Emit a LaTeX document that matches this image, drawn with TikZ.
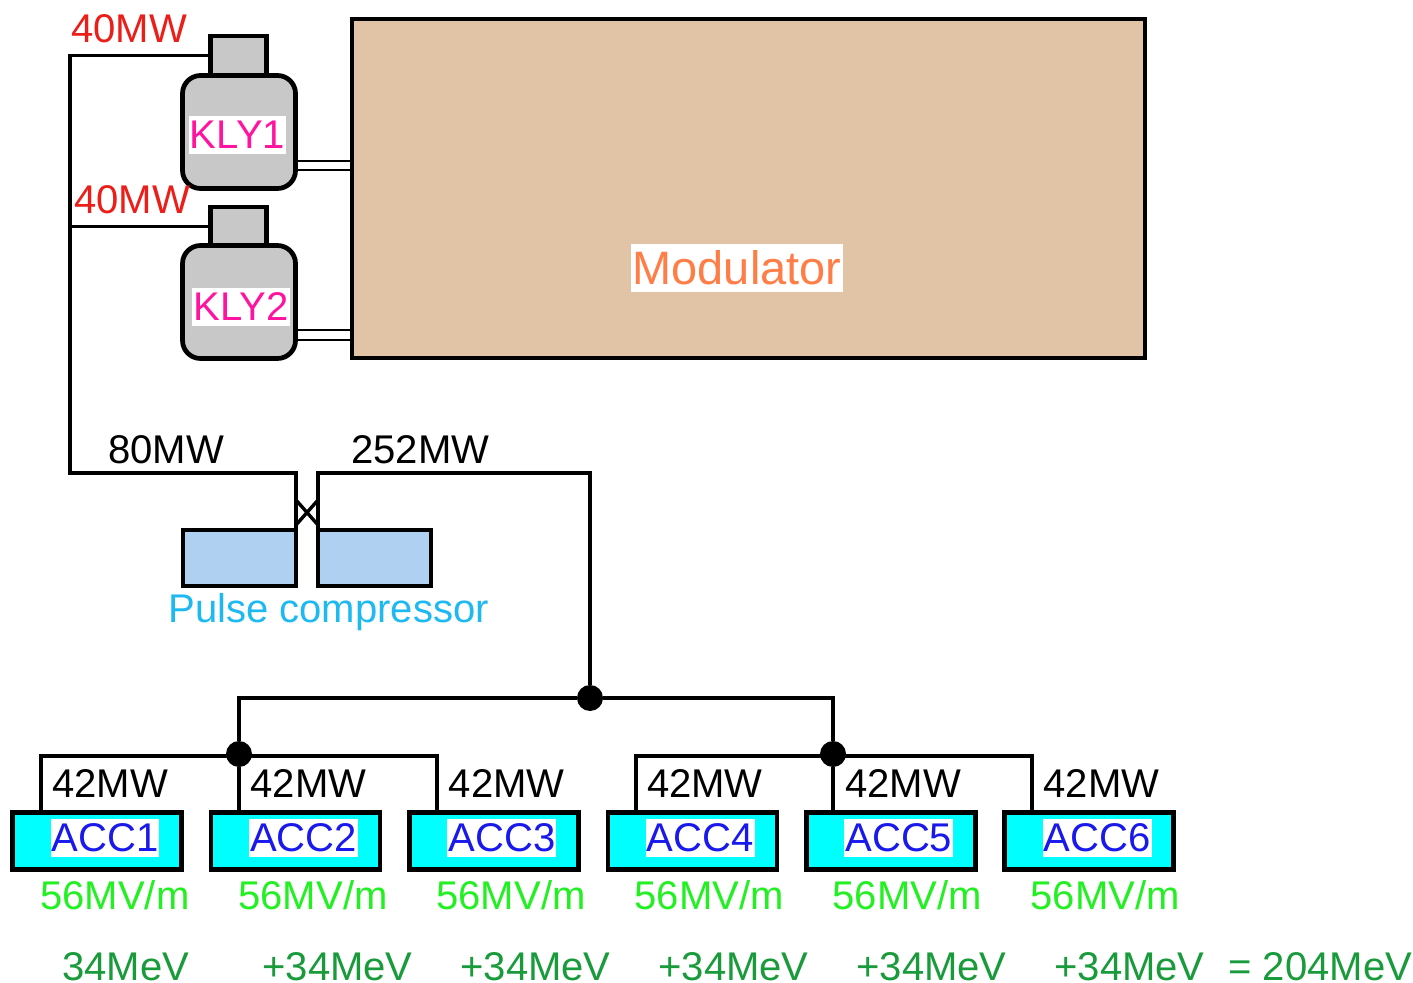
\documentclass[tikz,border=0pt]{standalone}
\usepackage{fontspec}
\setmainfont{Liberation Sans}
\usetikzlibrary{positioning}
\definecolor{modtan}{RGB}{225,195,165}
\definecolor{klygray}{RGB}{200,200,200}
\definecolor{pcblue}{RGB}{176,208,242}
\definecolor{acccyan}{RGB}{0,255,255}
\definecolor{lblred}{RGB}{235,30,25}
\definecolor{lblpink}{RGB}{255,20,160}
\definecolor{lblorange}{RGB}{255,125,70}
\definecolor{lblsky}{RGB}{30,185,240}
\definecolor{lblblue}{RGB}{25,25,235}
\definecolor{lblgreen}{RGB}{35,240,35}
\definecolor{lbldark}{RGB}{25,155,60}
\tikzset{
  boxline/.style={draw=black, line width=0.095cm, inner sep=0pt, outer sep=0pt},
  klybody/.style={boxline, fill=klygray, rounded corners=0.36cm, minimum width=2.26cm, minimum height=2.26cm},
  klytop/.style={boxline, fill=klygray, minimum width=1.12cm, minimum height=0.78cm},
  pcbox/.style={boxline, fill=pcblue, minimum width=2.26cm, minimum height=1.12cm},
  accbox/.style={boxline, fill=acccyan, minimum width=3.38cm, minimum height=1.14cm},
  wire/.style={draw=black, line width=0.068cm},
  thinwire/.style={draw=black, line width=0.055cm},
  junction/.style={circle, fill=black, inner sep=0pt, minimum size=0.52cm},
  lbl/.style={inner sep=0pt, font=\fontsize{22.8}{24}\selectfont},
  lblbase/.style={lbl, anchor=base west},
  whitelbl/.style={lbl, fill=white, inner xsep=0.02cm, inner ysep=0.1cm},
  acclbl/.style={whitelbl, text=lblblue, xshift=0.16cm, yshift=0.06cm}
}
\begin{document}
\begin{tikzpicture}[x=0.02cm, y=-0.02cm]
  \useasboundingbox (0,0) rectangle (1413,983);
  % modulator and klystrons
  \node[boxline, fill=modtan, minimum width=15.86cm, minimum height=6.78cm] (modulator) at (748.5,188.5) {};
  \node[klytop] (top1) at (238.5,55.5) {};
  \node[klybody] (kly1) at (239,132) {};
  \node[klytop] (top2) at (238.5,226.5) {};
  \node[klybody] (kly2) at (239,302) {};
  \coordinate (kly1a) at (296,161);
  \coordinate (kly1b) at (296,170);
  \coordinate (kly2a) at (296,330);
  \coordinate (kly2b) at (296,340);
  \draw[thinwire] (kly1a) -- (kly1a -| modulator.west);
  \draw[thinwire] (kly1b) -- (kly1b -| modulator.west);
  \draw[thinwire] (kly2a) -- (kly2a -| modulator.west);
  \draw[thinwire] (kly2b) -- (kly2b -| modulator.west);
  \node[whitelbl, text=lblpink] (kly1txt) at (237.5,135) {KLY1};
  \node[whitelbl, text=lblpink] (kly2txt) at (241,307) {KLY2};
  \node[lbl, fill=white, inner xsep=0.04cm, inner ysep=0.13cm, font=\fontsize{26.7}{28}\selectfont, text=lblorange] (modtxt) at (737,268) {Modulator};
  % pulse compressor
  \node[pcbox] (pc1) at (239.5,558) {};
  \node[pcbox] (pc2) at (374.5,558) {};
  \coordinate (feed) at (70,473);
  \node[junction] (split) at (590,698) {};
  \draw[wire] (top1.west) -| (feed) -- (feed -| pc1.east) -- (pc1.north east);
  \draw[wire] (top2.west) -- (top2.west -| feed);
  \draw[wire] (split) |- (pc2.west |- feed) -- (pc2.north west);
  \coordinate (xa) at (296,500);
  \coordinate (xb) at (318,525);
  \coordinate (xc) at (318,500);
  \coordinate (xd) at (296,525);
  \draw[wire] (xa) -- (xb);
  \draw[wire] (xc) -- (xd);
  % accelerating structures
  \node[accbox] (acc1) at (97,841) {};
  \node[accbox, right=0.59cm of acc1] (acc2) {};
  \node[accbox, right=0.59cm of acc2] (acc3) {};
  \node[accbox, right=0.59cm of acc3] (acc4) {};
  \node[accbox, right=0.59cm of acc4] (acc5) {};
  \node[accbox, right=0.59cm of acc5] (acc6) {};
  \node[acclbl] (acctxt1) at (acc1) {ACC1};
  \node[acclbl] (acctxt2) at (acc2) {ACC2};
  \node[acclbl] (acctxt3) at (acc3) {ACC3};
  \node[acclbl] (acctxt4) at (acc4) {ACC4};
  \node[acclbl] (acctxt5) at (acc5) {ACC5};
  \node[acclbl] (acctxt6) at (acc6) {ACC6};
  \node[junction] (dotl) at (239,754) {};
  \node[junction] (dotr) at (833,754) {};
  \draw[wire] (dotl) |- (split) -| (dotr);
  \coordinate (busa) at (41,756);
  \coordinate (busb) at (437,756);
  \coordinate (busc) at (636,756);
  \coordinate (busd) at (1032,756);
  \draw[wire] (busa |- acc1.north) -- (busa) -- (busb) -- (busb |- acc3.north);
  \draw[wire] (busc |- acc4.north) -- (busc) -- (busd) -- (busd |- acc6.north);
  \draw[wire] (dotl) -- (dotl |- acc2.north);
  \draw[wire] (dotr) -- (dotr |- acc5.north);
  % power labels
  \node[lblbase, text=lblred] (p1) at (71,43) {40MW};
  \node[lblbase, text=lblred] (p2) at (74,214) {40MW};
  \node[lblbase] (p3) at (108,463) {80MW};
  \node[lblbase] (p4) at (351,463) {252MW};
  \node[lblbase, text=lblsky] (pctxt) at (168,622) {Pulse compressor};
  \node[lblbase] (mw1) at (52,797) {42MW};
  \node[lbl, right=1.636cm of mw1] (mw2) {42MW};
  \node[lbl, right=1.636cm of mw2] (mw3) {42MW};
  \node[lbl, right=1.636cm of mw3] (mw4) {42MW};
  \node[lbl, right=1.636cm of mw4] (mw5) {42MW};
  \node[lbl, right=1.636cm of mw5] (mw6) {42MW};
  % gradient and energy
  \node[lblbase, text=lblgreen] (mv1) at (40,909) {56MV/m};
  \node[lbl, text=lblgreen, right=0.964cm of mv1] (mv2) {56MV/m};
  \node[lbl, text=lblgreen, right=0.964cm of mv2] (mv3) {56MV/m};
  \node[lbl, text=lblgreen, right=0.964cm of mv3] (mv4) {56MV/m};
  \node[lbl, text=lblgreen, right=0.964cm of mv4] (mv5) {56MV/m};
  \node[lbl, text=lblgreen, right=0.964cm of mv5] (mv6) {56MV/m};
  \node[lblbase, text=lbldark] (e1) at (62,980) {34MeV};
  \node[lblbase, text=lbldark] (e2) at (262,980) {+34MeV};
  \node[lbl, text=lbldark, right=0.94cm of e2] (e3) {+34MeV};
  \node[lbl, text=lbldark, right=0.94cm of e3] (e4) {+34MeV};
  \node[lbl, text=lbldark, right=0.94cm of e4] (e5) {+34MeV};
  \node[lbl, text=lbldark, right=0.94cm of e5] (e6) {+34MeV};
  \node[lblbase, text=lbldark] (etot) at (1228,980) {= 204MeV};
\end{tikzpicture}
\end{document}
